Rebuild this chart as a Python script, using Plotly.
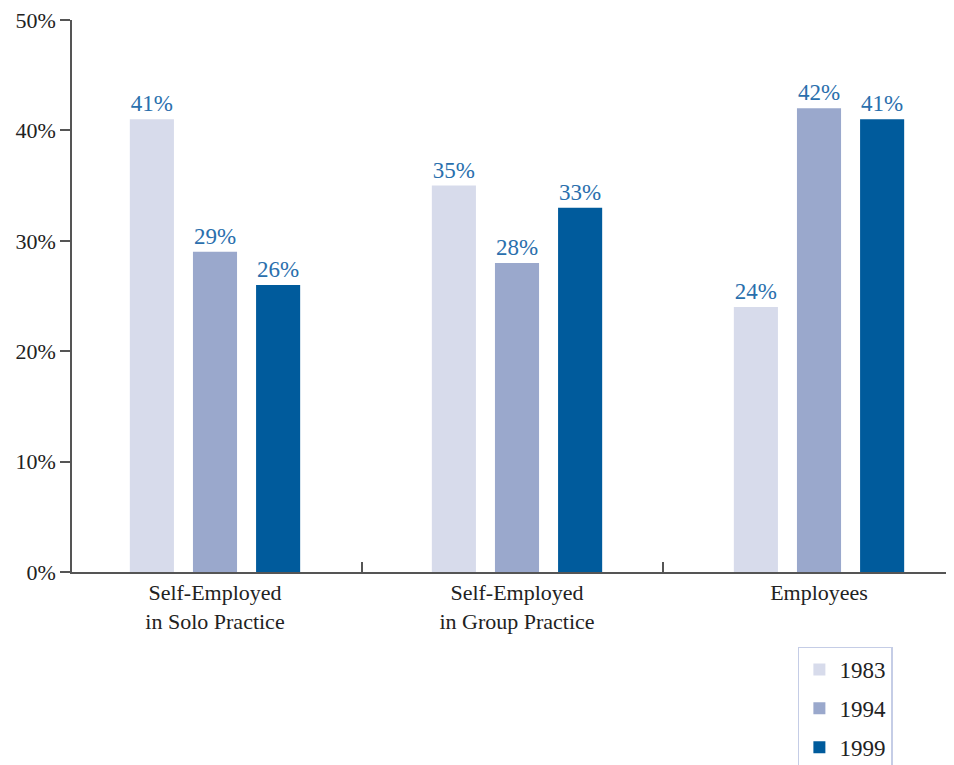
import plotly.graph_objects as go

categories = ["Self-Employed<br>in Solo Practice", "Self-Employed<br>in Group Practice", "Employees"]
years = ["1983", "1994", "1999"]
values = {
    "1983": [41, 35, 24],
    "1994": [29, 28, 42],
    "1999": [26, 33, 41],
}
colors = {"1983": "#d7dbeb", "1994": "#9aa8cc", "1999": "#005b9c"}

FONT = "Liberation Serif"
bar_w = 0.146
step = 0.209
pos = list(range(len(categories)))

fig = go.Figure()
for i, yr in enumerate(years):
    fig.add_trace(go.Bar(
        x=pos,
        y=values[yr],
        name=yr,
        legendgroup=yr,
        width=bar_w,
        offset=(i - 1) * step - bar_w / 2,
        marker=dict(color=colors[yr], line=dict(width=0)),
        texttemplate="%{y}%",
        textposition="outside",
        textfont=dict(family=FONT, size=23, color="#2a6fad"),
        cliponaxis=False,
    ))

# page body has an 8px margin, so margins are shifted by 8px
fig.update_layout(
    width=954, height=765,
    margin=dict(l=64, r=8, t=12, b=201, autoexpand=False),
    barmode="overlay",
    plot_bgcolor="white",
    paper_bgcolor="white",
    font=dict(family=FONT, size=22, color="#222"),
    showlegend=True,
    legend=dict(
        x=0.823, y=-0.135, xanchor="left", yanchor="top",
        bordercolor="#c5cde6", borderwidth=1.5,
        font=dict(family=FONT, size=23, color="#222"),
        tracegroupgap=6, itemwidth=30,
    ),
    xaxis=dict(
        range=[-0.4735, 2.447], automargin=False,
        tickvals=pos, ticktext=categories,
        ticks="", showline=True, linecolor="#555", linewidth=1.5,
        showgrid=False, zeroline=False,
        minor=dict(tickvals=[0.487, 1.483], ticks="inside", ticklen=10,
                   tickcolor="#555", tickwidth=1.5),
        tickfont=dict(family=FONT, size=22, color="#222"),
    ),
    yaxis=dict(
        range=[0, 50], automargin=False,
        tickvals=[0, 10, 20, 30, 40, 50],
        ticktext=["0%", "10%", "20%", "30%", "40%", "50%"],
        ticks="outside", ticklen=10, tickcolor="#555", tickwidth=1.5,
        ticklabeloverflow="allow",
        showline=True, linecolor="#555", linewidth=1.5,
        showgrid=False, zeroline=False,
        tickfont=dict(family=FONT, size=22, color="#222"),
    ),
)

fig.write_html("out.html")
